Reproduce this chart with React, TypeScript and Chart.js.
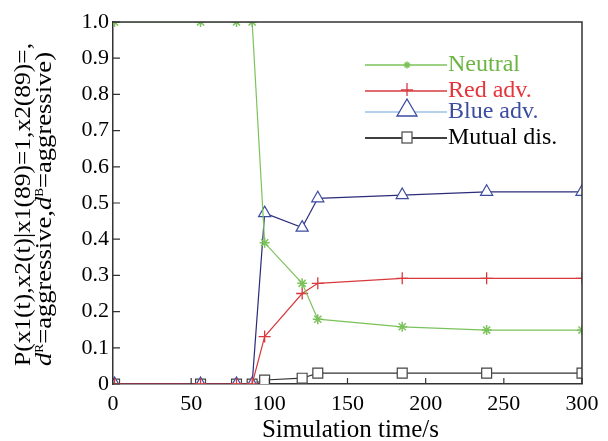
import React, { useEffect, useRef } from 'react';
import { Chart, registerables } from 'chart.js';

Chart.register(...registerables);

// ---- data ----
const times = [1, 56, 79, 89, 97, 121, 131, 185, 239, 300];
const neutral = [1, 1, 1, 1, 0.39, 0.278, 0.179, 0.158, 0.149, 0.149];
const redAdv = [0, 0, 0, 0, 0.131, 0.25, 0.278, 0.292, 0.292, 0.292];
const blueAdv = [0, 0, 0, 0, 0.472, 0.432, 0.513, 0.522, 0.531, 0.531];
const mutualDis = [0, 0, 0, 0, 0.011, 0.016, 0.03, 0.03, 0.03, 0.03];
const seriesNames = ['Neutral', 'Red adv.', 'Blue adv.', 'Mutual dis.'];
const xTickValues = [0, 50, 100, 150, 200, 250, 300];
const yTickValues = [0, 0.1, 0.2, 0.3, 0.4, 0.5, 0.6, 0.7, 0.8, 0.9, 1.0];
const xTitle = 'Simulation time/s';
const yTitleLine1 = 'P(x1(t),x2(t)|x1(89)=1,x2(89)=,';

const SERIF = '"Liberation Serif", "Times New Roman", serif';

const COLORS = {
  neutral: '#7cc25a',
  neutralText: '#6db543',
  red: '#d83a3c',
  redText: '#e5343a',
  blueLine: '#2c2c7a',
  blueMarker: '#3b4ba0',
  blueLegendLine: '#9cc3e6',
  blueText: '#3b4d9e',
  mutual: '#333333',
  mutualMarker: '#444444',
  axis: '#333333',
};

function toPoints(vals: number[]) {
  return vals.map((v, i) => ({ x: times[i], y: v }));
}

type Run = { text: string; italic?: boolean; sup?: boolean };

// draws a rotated line of text; startY is the page y where the text begins (bottom), length = target span
function drawRotatedRuns(
  ctx: CanvasRenderingContext2D,
  runs: Run[],
  baseX: number,
  startY: number,
  length: number
) {
  const fontFor = (r: Run) => `${r.italic ? 'italic ' : ''}${r.sup ? 12 : 24}px ${SERIF}`;
  let total = 0;
  const widths = runs.map((r) => {
    ctx.font = fontFor(r);
    const w = ctx.measureText(r.text).width;
    total += w;
    return w;
  });
  const sx = length / total;
  ctx.save();
  ctx.translate(baseX, startY);
  ctx.rotate(-Math.PI / 2);
  ctx.scale(sx, 1);
  ctx.fillStyle = '#000';
  ctx.textBaseline = 'alphabetic';
  ctx.textAlign = 'left';
  let pos = 0;
  runs.forEach((r, i) => {
    ctx.font = fontFor(r);
    ctx.fillText(r.text, pos, r.sup ? -8 : 0);
    pos += widths[i];
  });
  ctx.restore();
}

function drawStar(ctx: CanvasRenderingContext2D, x: number, y: number, r: number) {
  ctx.beginPath();
  ctx.moveTo(x - r, y); ctx.lineTo(x + r, y);
  ctx.moveTo(x, y - r); ctx.lineTo(x, y + r);
  const d = r * Math.SQRT1_2;
  ctx.moveTo(x - d, y - d); ctx.lineTo(x + d, y + d);
  ctx.moveTo(x - d, y + d); ctx.lineTo(x + d, y - d);
  ctx.stroke();
}

const decorPlugin = {
  id: 'decor',
  afterDraw(chart: any) {
    const ctx: CanvasRenderingContext2D = chart.ctx;
    const area = chart.chartArea;
    const xs = chart.scales.x;
    const ys = chart.scales.y;
    ctx.save();
    // top & right frame
    ctx.strokeStyle = COLORS.axis;
    ctx.lineWidth = 1.5;
    ctx.beginPath();
    ctx.moveTo(area.left, area.top);
    ctx.lineTo(area.right, area.top);
    ctx.lineTo(area.right, area.bottom);
    ctx.stroke();
    // inward ticks
    ctx.lineWidth = 1.2;
    ctx.beginPath();
    xTickValues.forEach((v) => {
      const px = xs.getPixelForValue(v);
      ctx.moveTo(px, area.bottom);
      ctx.lineTo(px, area.bottom - 6);
    });
    yTickValues.forEach((v) => {
      const py = ys.getPixelForValue(v);
      ctx.moveTo(area.left, py);
      ctx.lineTo(area.left + 7, py);
    });
    ctx.stroke();

    // x-axis title
    ctx.fillStyle = '#000';
    ctx.font = `25px ${SERIF}`;
    ctx.textAlign = 'center';
    ctx.textBaseline = 'alphabetic';
    ctx.fillText(xTitle, (area.left + area.right) / 2 + 3, 437);

    // y-axis title (two lines, rotated)
    drawRotatedRuns(ctx, [{ text: yTitleLine1 }], 30, 366, 323);
    drawRotatedRuns(
      ctx,
      [
        { text: 'd', italic: true },
        { text: 'R', sup: true },
        { text: '=aggressive,' },
        { text: 'd', italic: true },
        { text: 'B', sup: true },
        { text: '=aggressive)' },
      ],
      51,
      366,
      314
    );

    // legend
    const lx0 = area.left + 252;
    const lx1 = area.left + 334;
    const mx = area.left + 294;
    const tx = area.left + 335;
    const rows = [
      { y: area.top + 43, line: COLORS.neutral, text: COLORS.neutralText, kind: 'star' },
      { y: area.top + 69, line: COLORS.red, text: COLORS.redText, kind: 'cross' },
      { y: area.top + 90, line: COLORS.blueLegendLine, text: COLORS.blueText, kind: 'tri' },
      { y: area.top + 116, line: '#000', text: '#000', kind: 'rect' },
    ];
    rows.forEach((row, i) => {
      ctx.lineWidth = 1.3;
      ctx.strokeStyle = row.line;
      ctx.beginPath();
      ctx.moveTo(lx0, row.y);
      ctx.lineTo(lx1, row.y);
      ctx.stroke();
      if (row.kind === 'star') {
        ctx.strokeStyle = COLORS.neutral;
        ctx.lineWidth = 1.5;
        drawStar(ctx, mx, row.y, 3.5);
      } else if (row.kind === 'cross') {
        ctx.strokeStyle = COLORS.red;
        ctx.beginPath();
        ctx.moveTo(mx - 6, row.y - 1); ctx.lineTo(mx + 6, row.y - 1);
        ctx.moveTo(mx, row.y - 8); ctx.lineTo(mx, row.y + 5);
        ctx.stroke();
      } else if (row.kind === 'tri') {
        ctx.strokeStyle = COLORS.blueMarker;
        ctx.fillStyle = '#fff';
        ctx.beginPath();
        ctx.moveTo(mx, row.y - 13);
        ctx.lineTo(mx + 10, row.y + 4);
        ctx.lineTo(mx - 10, row.y + 4);
        ctx.closePath();
        ctx.fill();
        ctx.stroke();
      } else {
        ctx.strokeStyle = '#555';
        ctx.fillStyle = '#fff';
        ctx.fillRect(mx - 5, row.y - 6, 10, 11);
        ctx.strokeRect(mx - 5, row.y - 6, 10, 11);
      }
      ctx.fillStyle = row.text;
      ctx.font = `24px ${SERIF}`;
      ctx.textAlign = 'left';
      ctx.textBaseline = 'middle';
      ctx.fillText(seriesNames[i], tx, row.y);
    });
    ctx.restore();
  },
};

export default function App() {
  const ref = useRef<HTMLCanvasElement | null>(null);
  useEffect(() => {
    if (!ref.current) return;
    const chart = new Chart(ref.current, {
      type: 'line',
      data: {
        datasets: [
          {
            label: seriesNames[0],
            data: toPoints(neutral),
            borderColor: COLORS.neutral,
            borderWidth: 1.2,
            pointStyle: 'star',
            pointRadius: 5,
            pointBorderColor: COLORS.neutral,
            pointBorderWidth: 1.5,
            pointBackgroundColor: COLORS.neutral,
          },
          {
            label: seriesNames[1],
            data: toPoints(redAdv),
            borderColor: COLORS.red,
            borderWidth: 1.2,
            pointStyle: 'cross',
            pointRadius: 6,
            pointBorderColor: COLORS.red,
            pointBorderWidth: 1.3,
          },
          {
            label: seriesNames[2],
            data: toPoints(blueAdv),
            borderColor: COLORS.blueLine,
            borderWidth: 1.2,
            pointStyle: 'triangle',
            pointRadius: 7,
            pointBorderColor: COLORS.blueMarker,
            pointBackgroundColor: '#ffffff',
            pointBorderWidth: 1.2,
          },
          {
            label: seriesNames[3],
            data: toPoints(mutualDis),
            borderColor: COLORS.mutual,
            borderWidth: 1.2,
            pointStyle: 'rect',
            pointRadius: 7,
            pointBorderColor: COLORS.mutualMarker,
            pointBackgroundColor: '#ffffff',
            pointBorderWidth: 1.2,
          },
        ],
      },
      options: {
        responsive: false,
        animation: false,
        layout: { padding: { left: 0, right: 26, top: 22, bottom: 0 } },
        plugins: {
          legend: { display: false },
          tooltip: { enabled: false },
          title: { display: false },
        },
        scales: {
          x: {
            type: 'linear',
            min: 0,
            max: 300,
            afterBuildTicks: (s: any) => {
              s.ticks = xTickValues.map((v) => ({ value: v }));
            },
            afterFit: (s: any) => {
              s.height = 57;
            },
            grid: { display: false, drawTicks: false },
            border: { display: true, color: COLORS.axis, width: 1.5 },
            ticks: {
              color: '#000',
              font: { family: SERIF, size: 22 },
              padding: 7,
              maxRotation: 0,
              autoSkip: false,
            },
            title: { display: false },
          },
          y: {
            type: 'linear',
            min: 0,
            max: 1,
            afterBuildTicks: (s: any) => {
              s.ticks = yTickValues.map((v) => ({ value: v }));
            },
            afterFit: (s: any) => {
              s.width = 113;
            },
            grid: { display: false, drawTicks: false },
            border: { display: true, color: COLORS.axis, width: 1.5 },
            ticks: {
              color: '#000',
              font: { family: SERIF, size: 22 },
              padding: 4,
              autoSkip: false,
              callback: (v: any) => (Number(v) === 0 ? '0' : Number(v).toFixed(1)),
            },
          },
        },
      },
      plugins: [decorPlugin],
    } as any);
    return () => chart.destroy();
  }, []);
  return (
    <div style={{ position: 'fixed', left: 0, top: 0, width: 608, height: 441, background: '#fff' }}>
      <canvas ref={ref} width={608} height={441} />
    </div>
  );
}
